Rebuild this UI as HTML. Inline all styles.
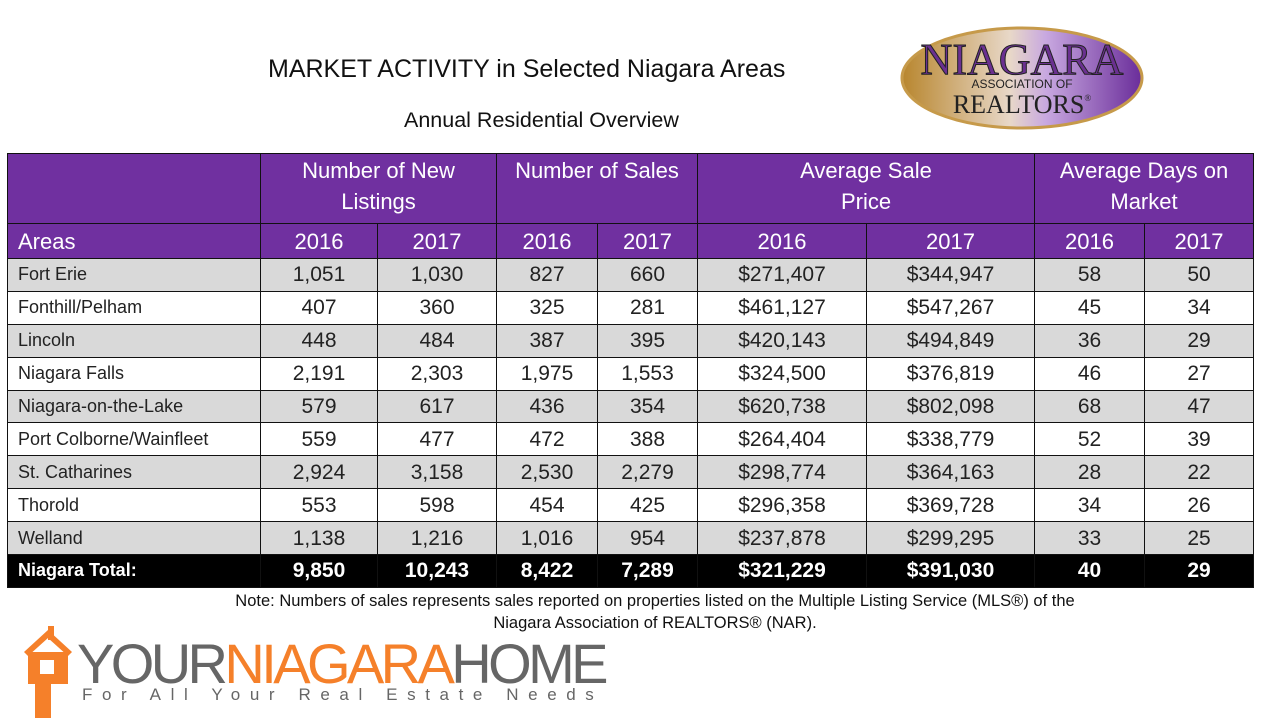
<!DOCTYPE html>
<html><head><meta charset="utf-8"><style>
body{margin:0;width:1280px;height:720px;background:#fff;position:relative;overflow:hidden;font-family:"Liberation Sans",sans-serif}
.t{position:absolute;white-space:nowrap}
table{position:absolute;left:7px;top:153px;border-collapse:collapse;table-layout:fixed}
td{border:1.5px solid #111;padding:0;text-align:center;font-size:21px;color:#222;height:31.9px;line-height:31px}
td.a{text-align:left;padding-left:10px;font-size:18px}
tr.h td{background:#7030a0;color:#fff;font-size:22px}
tr.g td{background:#d9d9d9}
tr.k td{background:#000;color:#fff;font-weight:bold}
</style></head><body>
<div class="t" style="left:268px;top:55px;font-size:25px;color:#111">MARKET ACTIVITY in Selected Niagara Areas</div>
<div class="t" style="left:404px;top:108px;font-size:21.5px;color:#111">Annual Residential Overview</div>
<svg style="position:absolute;left:898px;top:22px" width="250" height="110">
<defs><linearGradient id="gg" x1="0" x2="1"><stop offset="0" stop-color="#b8862e"/><stop offset="0.45" stop-color="#e8d8c8"/><stop offset="0.6" stop-color="#c8a8e0"/><stop offset="1" stop-color="#6a2d9a"/></linearGradient></defs>
<ellipse cx="124" cy="56" rx="120" ry="50" fill="url(#gg)" stroke="#c69a4a" stroke-width="3"/>
<text x="124" y="52" text-anchor="middle" font-family="Liberation Serif" font-size="44" fill="#6a3090" stroke="#222" stroke-width="1">NIAGARA</text>
<text x="124" y="66" text-anchor="middle" font-family="Liberation Sans" font-size="12" fill="#222">ASSOCIATION OF</text>
<text x="124" y="91" text-anchor="middle" font-family="Liberation Serif" font-size="26" fill="#222">REALTORS<tspan font-size="9" dy="-12">®</tspan></text>
</svg>
<table>
<colgroup><col style="width:253px"><col style="width:117px"><col style="width:119px"><col style="width:101px"><col style="width:100px"><col style="width:169px"><col style="width:168px"><col style="width:110px"><col style="width:109px"></colgroup>
<tr class="h"><td></td><td colspan="2" style="height:68px;line-height:31px;vertical-align:top;padding-top:1px">Number of New<br>Listings</td><td colspan="2" style="vertical-align:top;padding-top:1px">Number of Sales</td><td colspan="2" style="vertical-align:top;padding-top:1px">Average Sale<br>Price</td><td colspan="2" style="vertical-align:top;padding-top:1px">Average Days on<br>Market</td></tr>
<tr class="h"><td class="a" style="font-size:22px;height:34px">Areas</td><td>2016</td><td>2017</td><td>2016</td><td>2017</td><td>2016</td><td>2017</td><td>2016</td><td>2017</td></tr>
<tr class="g"><td class="a">Fort Erie</td><td>1,051</td><td>1,030</td><td>827</td><td>660</td><td>$271,407</td><td>$344,947</td><td>58</td><td>50</td></tr>
<tr><td class="a">Fonthill/Pelham</td><td>407</td><td>360</td><td>325</td><td>281</td><td>$461,127</td><td>$547,267</td><td>45</td><td>34</td></tr>
<tr class="g"><td class="a">Lincoln</td><td>448</td><td>484</td><td>387</td><td>395</td><td>$420,143</td><td>$494,849</td><td>36</td><td>29</td></tr>
<tr><td class="a">Niagara Falls</td><td>2,191</td><td>2,303</td><td>1,975</td><td>1,553</td><td>$324,500</td><td>$376,819</td><td>46</td><td>27</td></tr>
<tr class="g"><td class="a">Niagara-on-the-Lake</td><td>579</td><td>617</td><td>436</td><td>354</td><td>$620,738</td><td>$802,098</td><td>68</td><td>47</td></tr>
<tr><td class="a">Port Colborne/Wainfleet</td><td>559</td><td>477</td><td>472</td><td>388</td><td>$264,404</td><td>$338,779</td><td>52</td><td>39</td></tr>
<tr class="g"><td class="a">St. Catharines</td><td>2,924</td><td>3,158</td><td>2,530</td><td>2,279</td><td>$298,774</td><td>$364,163</td><td>28</td><td>22</td></tr>
<tr><td class="a">Thorold</td><td>553</td><td>598</td><td>454</td><td>425</td><td>$296,358</td><td>$369,728</td><td>34</td><td>26</td></tr>
<tr class="g"><td class="a">Welland</td><td>1,138</td><td>1,216</td><td>1,016</td><td>954</td><td>$237,878</td><td>$299,295</td><td>33</td><td>25</td></tr>
<tr class="k"><td class="a">Niagara Total:</td><td>9,850</td><td>10,243</td><td>8,422</td><td>7,289</td><td>$321,229</td><td>$391,030</td><td>40</td><td>29</td></tr>
</table>
<div class="t" style="left:0;width:1310px;text-align:center;top:590px;font-size:16.5px;color:#111;line-height:22px">Note: Numbers of sales represents sales reported on properties listed on the Multiple Listing Service (MLS®) of the<br>Niagara Association of REALTORS® (NAR).</div>
<svg style="position:absolute;left:20px;top:622px" width="60" height="98">
<polygon points="4,30 28,8 52,30 48,34 28,16 8,34" fill="#f5802a"/>
<rect x="28" y="4" width="6" height="14" fill="#f5802a"/>
<rect x="8" y="30" width="40" height="32" fill="#f5802a"/>
<rect x="20" y="38" width="14" height="14" fill="#fff"/>
<rect x="15" y="60" width="16" height="36" fill="#f5802a"/>
</svg>
<div class="t" style="left:77px;top:634px;font-size:56px;letter-spacing:-3.6px;color:#666;line-height:60px">YOUR<span style="color:#f5802a">NIAGARA</span>HOME</div>
<div class="t" style="left:82px;top:685px;font-size:17px;letter-spacing:9.6px;color:#666">For All Your Real Estate Needs</div>
</body></html>
